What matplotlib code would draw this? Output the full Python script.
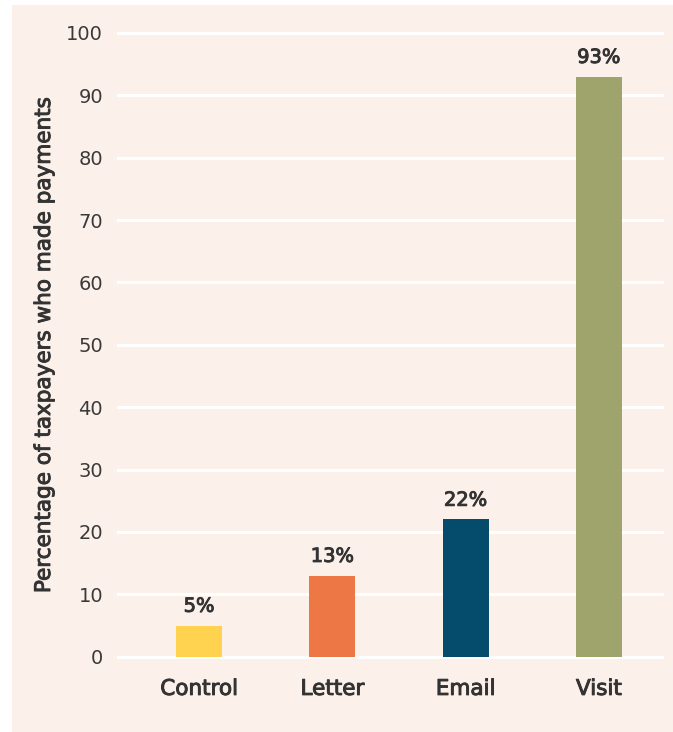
import matplotlib
matplotlib.use("Agg")
import matplotlib.pyplot as plt
import matplotlib.patheffects as pe
from matplotlib.patches import Rectangle

categories = ["Control", "Letter", "Email", "Visit"]
values = [5, 13, 22, 93]
value_labels = ["5%", "13%", "22%", "93%"]
colors = ["#FFD24F", "#EE7746", "#054B6B", "#9FA46C"]
yticks = [0, 10, 20, 30, 40, 50, 60, 70, 80, 90, 100]

W, H = 673, 732
BG = "#FCF0EB"
TXT = "#333333"

plt.rcParams["font.family"] = ["DejaVu Sans"]

# medium-weight look: regular glyphs with a thin outline
medium = [pe.withStroke(linewidth=0.7, foreground=TXT)]

fig = plt.figure(figsize=(W / 100, H / 100), dpi=100, facecolor="white")

# pink backing panel, kept behind the axes
fig.patches.append(Rectangle((12 / W, 0), 1 - 12 / W, 1 - 5 / H,
                             transform=fig.transFigure, facecolor=BG,
                             edgecolor="none", zorder=-10))

ymin, ymax = -2, 102
px_per_unit = 6.237
y0_px = 656.7
bottom_px = y0_px + (0 - ymin) * px_per_unit
top_px = y0_px - (ymax - 0) * px_per_unit
left_px, right_px = 117, 664
ax = fig.add_axes([left_px / W, (H - bottom_px) / H,
                   (right_px - left_px) / W, (bottom_px - top_px) / H])
ax.set_facecolor("none")
ax.set_zorder(5)

x = list(range(len(categories)))
ax.bar(x, values, width=0.346, color=colors, zorder=3)
for xi, v, lab in zip(x, values, value_labels):
    ax.annotate(lab, (xi, v), xytext=(0, 7), textcoords="offset points",
                ha="center", va="bottom", fontsize=14, color=TXT,
                path_effects=medium)

ax.set_xlim(-0.617, 3.489)
ax.set_ylim(ymin, ymax)
ax.set_yticks(yticks)
ax.set_yticklabels([str(t) for t in yticks], fontsize=14, color="#3a3a3a")
ax.set_xticks(x)
ax.set_xticklabels(categories, fontsize=15.5, color=TXT)
for t in ax.get_xticklabels():
    t.set_path_effects(medium)
ax.tick_params(axis="y", length=0, pad=10)
ax.tick_params(axis="x", length=0, pad=7)
for s in ax.spines.values():
    s.set_visible(False)
ax.yaxis.grid(True, color="white", linewidth=2.2, zorder=1)
ax.set_axisbelow(True)

fig.text(44 / W, 1 - 345 / H, "Percentage of taxpayers who made payments",
         rotation=90, ha="center", va="center", fontsize=15.5,
         color=TXT, path_effects=medium)

fig.savefig("out.png", dpi=100, facecolor="white")
